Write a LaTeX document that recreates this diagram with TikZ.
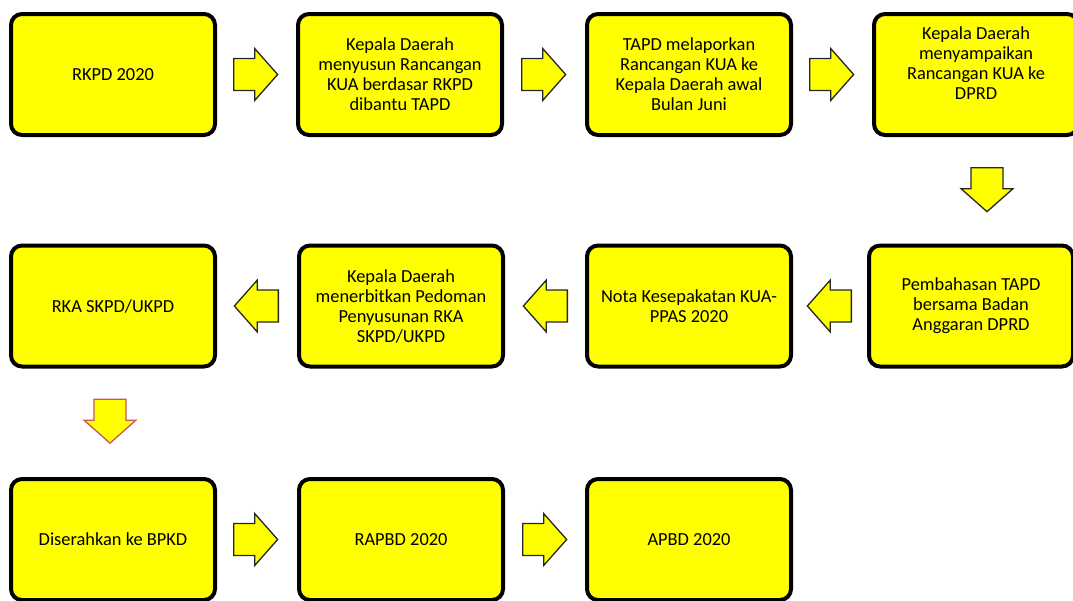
\documentclass[tikz,border=0pt]{standalone}
\usepackage{fontspec}
\setmainfont{Carlito}
\usepackage{xcolor}
\usetikzlibrary{calc, shapes.arrows}

\definecolor{kuning}{RGB}{255,255,0}
\definecolor{merah}{RGB}{200,85,95}

\tikzset{
  kotak/.style={draw=black, line width=4pt, fill=kuning, rounded corners=11pt,
    minimum width=204pt, minimum height=121pt, inner sep=0pt, align=center,
    font=\fontsize{18.4pt}{20pt}\selectfont},
  panah/.style={single arrow, draw=black!85, line width=1.3pt, fill=kuning,
    minimum height=44pt, inner xsep=0pt, inner ysep=15.3pt, anchor=tail,
    single arrow head extend=10pt, single arrow tip angle=97},
  panahturun/.style={panah, shape border rotate=270, inner xsep=15.3pt, inner ysep=0pt},
}

\begin{document}
\begin{tikzpicture}[x=1pt, y=-1pt]
    \useasboundingbox (0,0) rectangle (1073,600);
    % baris atas
    \node[kotak] (b_1) at (113,74.5) {RKPD 2020};
    \node[kotak] (b_2) at (400,74.5) {Kepala Daerah\\menyusun Rancangan\\KUA berdasar RKPD\\dibantu TAPD};
    \node[kotak] (b_3) at (689,74.5) {TAPD melaporkan\\Rancangan KUA ke\\Kepala Daerah awal\\Bulan Juni};
    \node[kotak] (b_4) at (976,74.5) {Kepala Daerah\\menyampaikan\\Rancangan KUA ke\\DPRD\rule[-22pt]{0pt}{0pt}};
    % baris tengah
    \node[kotak] (b_5) at (113,306) {RKA SKPD/UKPD};
    \node[kotak] (b_6) at (401,306) {Kepala Daerah\\menerbitkan Pedoman\\Penyusunan RKA\\SKPD/UKPD};
    \node[kotak] (b_7) at (689,306) {Nota Kesepakatan KUA-\\PPAS 2020};
    \node[kotak] (b_8) at (971,306) {Pembahasan TAPD\\bersama Badan\\Anggaran DPRD};
    % baris bawah
    \node[kotak] (b_9) at (113,539.5) {Diserahkan ke BPKD};
    \node[kotak] (b_10) at (401,539.5) {RAPBD 2020};
    \node[kotak] (b_11) at (689,539.5) {APBD 2020};
    % panah
    \node[panah] (p_1) at ([xshift=16pt]b_1.east) {};
    \node[panah] (p_2) at ([xshift=17pt]b_2.east) {};
    \node[panah] (p_3) at ([xshift=16pt]b_3.east) {};
    \node[panahturun] (p_4) at ([xshift=11pt, yshift=-30pt]b_4.south) {};
    \node[panah, shape border rotate=180] (p_5) at ([xshift=-15pt]b_8.west) {};
    \node[panah, shape border rotate=180] (p_6) at ([xshift=-17pt]b_7.west) {};
    \node[panah, shape border rotate=180] (p_7) at ([xshift=-18pt]b_6.west) {};
    \node[panahturun, draw=merah] (p_8) at ([xshift=-3pt, yshift=-30pt]b_5.south) {};
    \node[panah] (p_9) at ([xshift=16pt]b_9.east) {};
    \node[panah] (p_10) at ([xshift=17pt]b_10.east) {};
\end{tikzpicture}
\end{document}
